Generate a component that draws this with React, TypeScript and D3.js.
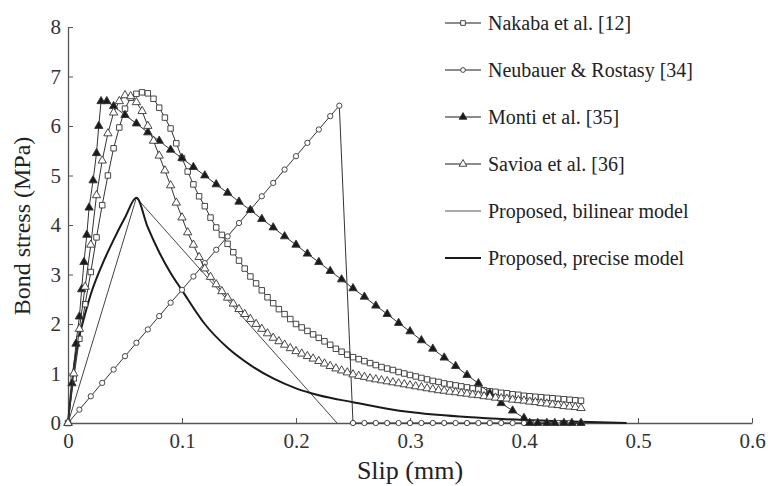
import React, { useEffect, useRef } from 'react';
import * as d3 from 'd3';

// slip grid used by the two densely sampled test curves (mm)
const fineSlip = [
  0, 0.005, 0.01, 0.015, 0.02, 0.025, 0.03, 0.035, 0.04, 0.045,
  0.05, 0.055, 0.06, 0.065, 0.07, 0.075, 0.08, 0.085, 0.09, 0.095,
  0.1, 0.105, 0.11, 0.115, 0.12, 0.125, 0.13, 0.135, 0.14, 0.145,
  0.15, 0.155, 0.16, 0.165, 0.17, 0.175, 0.18, 0.185, 0.19, 0.195,
  0.2, 0.205, 0.21, 0.215, 0.22, 0.225, 0.23, 0.235, 0.24, 0.245,
  0.25, 0.255, 0.26, 0.265, 0.27, 0.275, 0.28, 0.285, 0.29, 0.295,
  0.3, 0.305, 0.31, 0.315, 0.32, 0.325, 0.33, 0.335, 0.34, 0.345,
  0.35, 0.355, 0.36, 0.365, 0.37, 0.375, 0.38, 0.385, 0.39, 0.395,
  0.4, 0.405, 0.41, 0.415, 0.42, 0.425, 0.43, 0.435, 0.44, 0.445, 0.45,
];

const nakabaStress = [
  0, 0.9, 1.7, 2.4, 3.05, 3.75, 4.4, 5.0, 5.55, 5.97,
  6.35, 6.57, 6.65, 6.68, 6.66, 6.55, 6.37, 6.17, 5.95, 5.65,
  5.35, 5.08, 4.82, 4.58, 4.38, 4.15, 3.95, 3.8, 3.62, 3.45,
  3.28, 3.12, 2.96, 2.82, 2.68, 2.54, 2.42, 2.3, 2.2, 2.1,
  2.0, 1.93, 1.86, 1.79, 1.72, 1.65, 1.58, 1.5, 1.44, 1.38,
  1.33, 1.29, 1.25, 1.21, 1.17, 1.13, 1.1, 1.07, 1.03, 1.0,
  0.97, 0.94, 0.91, 0.88, 0.85, 0.83, 0.8, 0.78, 0.76, 0.74,
  0.72, 0.7, 0.68, 0.66, 0.64, 0.63, 0.61, 0.6, 0.58, 0.57,
  0.55, 0.54, 0.53, 0.52, 0.51, 0.5, 0.49, 0.48, 0.47, 0.46, 0.45,
];

const savioaStress = [
  0, 1.0, 1.9, 2.75, 3.6, 4.6, 5.3, 5.85, 6.27, 6.5,
  6.62, 6.6, 6.48, 6.3, 6.0, 5.7, 5.4, 5.1, 4.8, 4.45,
  4.15, 3.85, 3.6, 3.35, 3.12, 2.95, 2.8, 2.66, 2.53, 2.41,
  2.3, 2.2, 2.1, 2.0, 1.9, 1.81, 1.72, 1.65, 1.58, 1.51,
  1.45, 1.4, 1.35, 1.3, 1.25, 1.2, 1.15, 1.1, 1.06, 1.02,
  0.98, 0.95, 0.93, 0.9, 0.88, 0.86, 0.84, 0.82, 0.8, 0.78,
  0.76, 0.74, 0.72, 0.7, 0.68, 0.66, 0.65, 0.63, 0.62, 0.6,
  0.59, 0.57, 0.56, 0.54, 0.53, 0.51, 0.5, 0.49, 0.47, 0.46,
  0.45, 0.43, 0.42, 0.4, 0.39, 0.37, 0.36, 0.34, 0.33, 0.32, 0.3,
];

const neubauerSlip = [
  0, 0.01, 0.02, 0.03, 0.04, 0.05, 0.06, 0.07, 0.08, 0.09,
  0.1, 0.11, 0.12, 0.13, 0.14, 0.15, 0.16, 0.17, 0.18, 0.19,
  0.2, 0.21, 0.22, 0.23, 0.238,
  0.25, 0.26, 0.27, 0.28, 0.29, 0.3, 0.31, 0.32, 0.33, 0.34,
  0.35, 0.36, 0.37, 0.38, 0.39, 0.4, 0.41, 0.42, 0.43, 0.44, 0.45,
];
const neubauerStress = [
  0, 0.27, 0.54, 0.81, 1.08, 1.35, 1.62, 1.89, 2.16, 2.43,
  2.69, 2.96, 3.23, 3.5, 3.77, 4.04, 4.31, 4.58, 4.85, 5.12,
  5.39, 5.66, 5.93, 6.2, 6.41,
  0, 0, 0, 0, 0, 0, 0, 0, 0, 0,
  0, 0, 0, 0, 0, 0, 0, 0, 0, 0, 0,
];

const montiSlip = [
  0, 0.0035, 0.007, 0.01, 0.012, 0.014, 0.0165, 0.0185, 0.022, 0.025,
  0.027, 0.029, 0.034, 0.04, 0.05, 0.06, 0.07, 0.08, 0.09, 0.1,
  0.11, 0.12, 0.13, 0.14, 0.15, 0.16, 0.17, 0.18, 0.19, 0.2,
  0.21, 0.22, 0.23, 0.24, 0.25, 0.26, 0.27, 0.28, 0.29, 0.3,
  0.31, 0.32, 0.33, 0.34, 0.35, 0.36, 0.37, 0.38, 0.39, 0.4,
  0.405, 0.412, 0.42, 0.427, 0.435, 0.442, 0.45,
];
const montiStress = [
  0, 0.8, 1.6, 2.15, 2.7, 3.25, 3.8, 4.35, 4.9, 5.45,
  6.0, 6.5, 6.5, 6.4, 6.22, 6.05, 5.87, 5.7, 5.52, 5.35,
  5.17, 5.0, 4.82, 4.65, 4.47, 4.3, 4.12, 3.95, 3.77, 3.6,
  3.42, 3.25, 3.07, 2.9, 2.72, 2.55, 2.37, 2.2, 2.02, 1.85,
  1.67, 1.5, 1.32, 1.15, 0.97, 0.8, 0.6, 0.4, 0.25, 0.1,
  0, 0, 0, 0, 0, 0, 0,
];

const bilinearSlip = [0, 0.06, 0.236];
const bilinearStress = [0, 4.55, 0];

const preciseSlip = [
  0, 0.005, 0.01, 0.015, 0.02, 0.03, 0.04, 0.05, 0.06, 0.07,
  0.08, 0.09, 0.1, 0.12, 0.14, 0.16, 0.18, 0.2, 0.22, 0.25,
  0.28, 0.3, 0.35, 0.4, 0.45, 0.49,
];
const preciseStress = [
  0, 1.1, 1.75, 2.2, 2.6, 3.2, 3.7, 4.15, 4.55, 3.95,
  3.45, 3.03, 2.68, 2.0, 1.52, 1.17, 0.9, 0.7, 0.56, 0.42,
  0.29, 0.22, 0.12, 0.06, 0.025, 0,
];

const xTicks = [0, 0.1, 0.2, 0.3, 0.4, 0.5, 0.6];
const yTicks = [0, 1, 2, 3, 4, 5, 6, 7, 8];
const legendLabels = [
  'Nakaba et al. [12]',
  'Neubauer & Rostasy [34]',
  'Monti et al. [35]',
  'Savioa et al. [36]',
  'Proposed, bilinear model',
  'Proposed, precise model',
];

const ink = '#1a1a1a';
const font = 'Liberation Serif, DejaVu Serif, serif';

function BondSlipChart() {
  const ref = useRef<SVGSVGElement>(null);

  useEffect(() => {
    const svg = d3.select(ref.current);
    svg.selectAll('*').remove();

    const x = d3.scaleLinear().domain([0, 0.6]).range([68, 752]);
    const y = d3.scaleLinear().domain([0, 8]).range([423, 27]);

    // axes (ticks point inward)
    const xAxis = svg.append('g').attr('transform', `translate(0,${y(0)})`)
      .call(d3.axisBottom(x).tickValues(xTicks).tickSizeInner(-5).tickSizeOuter(0).tickFormat(d => d === 0 ? '0' : String(d)));
    const yAxis = svg.append('g').attr('transform', `translate(${x(0)},0)`)
      .call(d3.axisLeft(y).tickValues(yTicks).tickSizeInner(-5).tickSizeOuter(0).tickFormat(d3.format('d')));
    [xAxis, yAxis].forEach(g => {
      g.attr('font-family', font).attr('font-size', 21);
      g.select('.domain').attr('stroke', '#555').attr('stroke-width', 1.3);
      g.selectAll('.tick line').attr('stroke', '#555');
      g.selectAll('.tick text').attr('fill', '#333');
    });
    xAxis.selectAll('.tick text').attr('y', 10).attr('dy', '0.71em');
    yAxis.selectAll('.tick text').attr('x', -7);

    svg.append('text').attr('x', 410).attr('y', 479).attr('text-anchor', 'middle')
      .attr('font-family', font).attr('font-size', 26).attr('fill', '#222').text('Slip (mm)');
    svg.append('text').attr('transform', 'translate(30,226) rotate(-90)').attr('text-anchor', 'middle')
      .attr('font-family', font).attr('font-size', 24).attr('fill', '#222').text('Bond stress (MPa)');

    const line = d3.line<[number, number]>().x(d => x(d[0])).y(d => y(d[1]));
    const zip = (s: number[], t: number[]) => s.map((v, i) => [v, t[i]] as [number, number]);

    const series = [
      { pts: zip(fineSlip, nakabaStress), sym: d3.symbolSquare, size: 30, fill: 'white' },
      { pts: zip(neubauerSlip, neubauerStress), sym: d3.symbolCircle, size: 22, fill: 'white' },
      { pts: zip(montiSlip, montiStress), sym: d3.symbolTriangle, size: 30, fill: ink },
      { pts: zip(fineSlip, savioaStress), sym: d3.symbolTriangle, size: 30, fill: 'white' },
    ];

    // model curves
    svg.append('path').datum(zip(bilinearSlip, bilinearStress)).attr('d', line)
      .attr('fill', 'none').attr('stroke', '#444').attr('stroke-width', 1);
    svg.append('path').datum(zip(preciseSlip, preciseStress))
      .attr('d', d3.line<[number, number]>().x(d => x(d[0])).y(d => y(d[1])).curve(d3.curveMonotoneX))
      .attr('fill', 'none').attr('stroke', ink).attr('stroke-width', 2);

    series.forEach(s => {
      svg.append('path').datum(s.pts).attr('d', line)
        .attr('fill', 'none').attr('stroke', '#333').attr('stroke-width', 1);
      svg.append('g').selectAll('path').data(s.pts).enter().append('path')
        .attr('d', d3.symbol().type(s.sym).size(s.size)())
        .attr('transform', d => `translate(${x(d[0])},${y(d[1])})`)
        .attr('fill', s.fill).attr('stroke', '#333').attr('stroke-width', 0.9);
    });

    // legend
    const legend = svg.append('g');
    const legendMarks = [
      { sym: d3.symbolSquare, size: 22, fill: 'white', w: 1 },
      { sym: d3.symbolCircle, size: 18, fill: 'white', w: 1 },
      { sym: d3.symbolTriangle, size: 26, fill: ink, w: 1 },
      { sym: d3.symbolTriangle, size: 26, fill: 'white', w: 1 },
      { sym: null, size: 0, fill: 'none', w: 1 },
      { sym: null, size: 0, fill: 'none', w: 2 },
    ];
    legendLabels.forEach((label, i) => {
      const ly = 23 + i * 47;
      const m = legendMarks[i];
      legend.append('line').attr('x1', 445).attr('x2', 481).attr('y1', ly).attr('y2', ly)
        .attr('stroke', i === 4 ? '#555' : ink).attr('stroke-width', m.w);
      if (m.sym) {
        legend.append('path').attr('d', d3.symbol().type(m.sym).size(m.size)())
          .attr('transform', `translate(463,${ly})`)
          .attr('fill', m.fill).attr('stroke', '#333').attr('stroke-width', 0.9);
      }
      legend.append('text').attr('x', 488).attr('y', ly).attr('dy', '0.35em')
        .attr('font-family', font).attr('font-size', 20).attr('fill', '#222').text(label);
    });
  }, []);

  return <svg ref={ref} width={768} height={486} style={{ position: 'absolute', left: 0, top: 0, background: 'white' }} />;
}

export default function App() {
  return <BondSlipChart />;
}
